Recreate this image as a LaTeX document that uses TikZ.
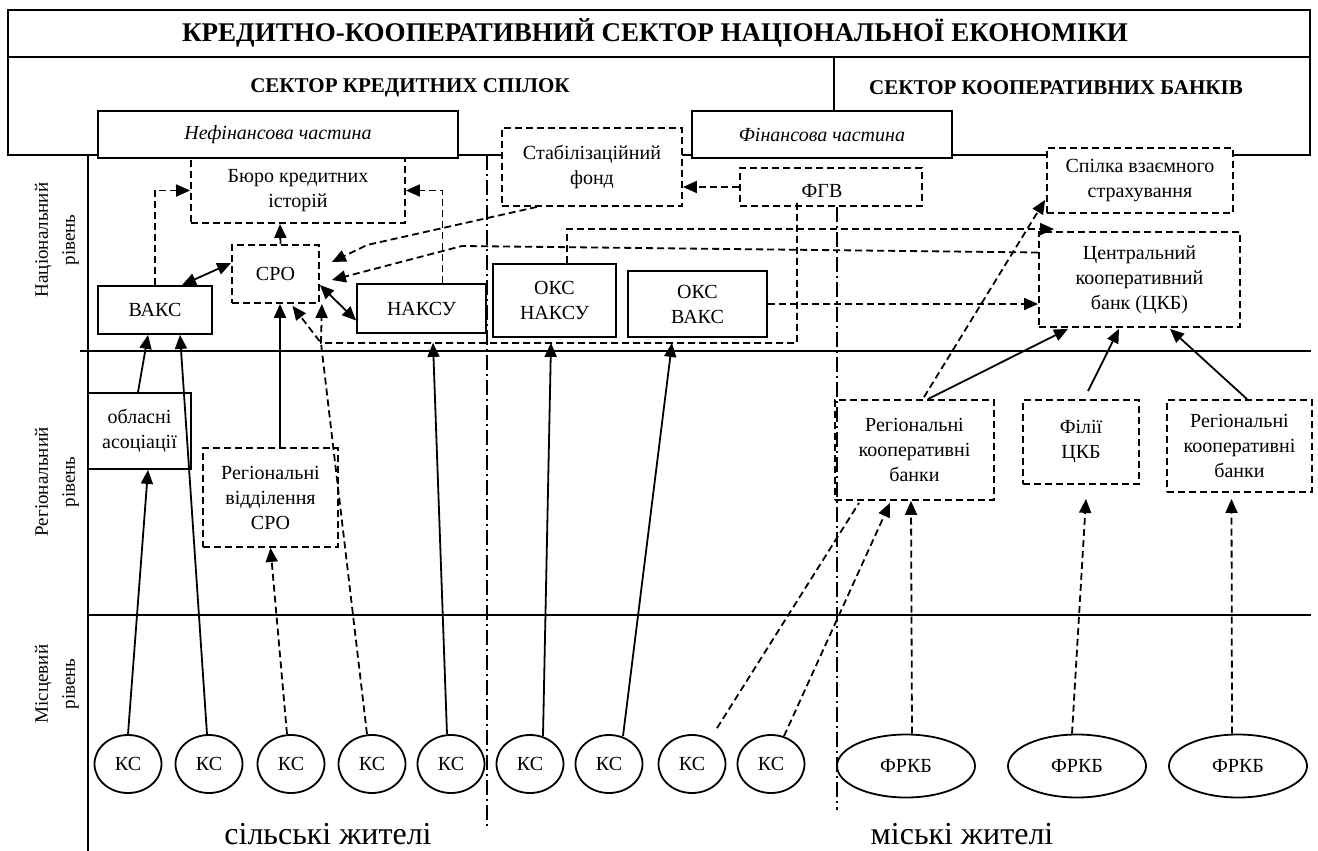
\documentclass[tikz,border=0pt]{standalone}
\usepackage{fontspec}
\setmainfont{Liberation Serif}
\usetikzlibrary{arrows.meta,shapes.geometric,calc}
\newcommand\bx{\fontsize{10}{12.5}\selectfont}
\begin{document}
\begin{tikzpicture}[x=0.5pt,y=-0.5pt,line width=0.9pt,
  sbox/.style={draw,inner sep=0pt,align=center,font=\bx},
  dbox/.style={sbox,dash pattern=on 3.5pt off 2pt},
  place/.style n args={4}{minimum width={(#3-#1)*0.5pt},minimum height={(#4-#2)*0.5pt},at={({(#1+#3)/2},{(#2+#4)/2})}},
  dsh/.style={dash pattern=on 3.5pt off 2pt},
  dashdot/.style={dash pattern=on 7.5pt off 2pt on 1pt off 2pt},
  arr/.style={-{Triangle[length=7pt,width=6pt]}},
  darr/.style={{Triangle[length=7pt,width=6pt]}-{Triangle[length=7pt,width=6pt]}},
  ks/.style={draw,ellipse,minimum width=33.5pt,minimum height=29pt,inner sep=0pt,font=\bx},
  fr/.style={ks,minimum width=69pt,minimum height=31.5pt},
  lvl/.style={rotate=90,align=center,font=\fontsize{9.5}{13.5}\selectfont},
  big/.style={font=\fontsize{16}{18}\selectfont,anchor=base,inner sep=0pt}]
\useasboundingbox (0,0) rectangle (1318,851);

% frame
\draw (8,10) rectangle (1310,155);
\draw (8,57) -- (1310,57);
\draw (834,57) -- (834,111);
\node[font=\bfseries\fontsize{13.5}{16}\selectfont] (title) at (655,33) {КРЕДИТНО-КООПЕРАТИВНИЙ СЕКТОР НАЦІОНАЛЬНОЇ ЕКОНОМІКИ};
\node[font=\bfseries\fontsize{10.5}{12}\selectfont] (secks) at (410,88) {СЕКТОР КРЕДИТНИХ СПІЛОК};
\node[font=\bfseries\fontsize{10.5}{12}\selectfont] (seckb) at (1056,88) {СЕКТОР КООПЕРАТИВНИХ БАНКІВ};

% level lines
\draw (80,351) -- (1311,351);
\draw (88,615) -- (1311,615);
\draw (88,155) -- (88,851);
\draw[dashdot] (487,155) -- (487,828);
\draw[dashdot] (837,207) -- (837,810);

% level labels
\node[lvl] (l1) at (57,240) {Національний\\рівень};
\node[lvl] (l2) at (57,482) {Регіональний\\рівень};
\node[lvl] (l3) at (57,684) {Місцевий\\рівень};

% boxes
\node[sbox,fill=white,font=\bx\itshape,place={98}{111}{458}{158}] (nef) {Нефінансова частина};
\node[sbox,fill=white,font=\bx\itshape,place={692}{111}{952}{158}] (fin) {Фінансова частина};
\node[dbox,fill=white,place={502}{128}{682}{206}] (stab) {Стабілізаційний\\фонд};
\node[dbox,place={740}{168}{922}{206}] (fgv) {};
\node[font=\bx] (fgvt) at (822,191) {ФГВ};
\node[dbox,fill=white,place={1047}{148}{1233}{213}] (spilka) {Спілка взаємного\\страхування};
\node[dbox,place={191}{158}{405}{223}] (buro) {Бюро кредитних\\історій};
\node[dbox,place={232}{245}{319}{303}] (sro) {СРО};
\node[sbox,place={98}{286}{212}{334}] (vaks) {ВАКС};
\node[sbox,place={357}{284}{486}{333}] (naksu) {НАКСУ};
\node[sbox,place={493}{264}{616}{337}] (okn) {ОКС\\НАКСУ};
\node[sbox,place={628}{271}{767}{337}] (okv) {ОКС\\ВАКС};
\node[dbox,place={1039}{232}{1240}{327}] (ckb) {Центральний\\кооперативний\\банк (ЦКБ)};
\node[sbox,place={88}{393}{191}{469}] (obl) {обласні\\асоціації};
\node[dbox,place={203}{448}{338}{547}] (rvs) {Регіональні\\відділення\\СРО};
\node[dbox,place={835}{400}{994}{500}] (rkb1) {Регіональні\\кооперативні\\банки};
\node[dbox,place={1023}{400}{1139}{484}] (fil) {Філії\\ЦКБ};
\node[dbox,place={1167}{400}{1312}{492}] (rkb2) {Регіональні\\кооперативні\\банки};

% bottom row
\node[ks] (ks1) at (128,764) {КС};
\node[ks] (ks2) at (209,764) {КС};
\node[ks] (ks3) at (291,764) {КС};
\node[ks] (ks4) at (372,764) {КС};
\node[ks] (ks5) at (451,764) {КС};
\node[ks] (ks6) at (530,764) {КС};
\node[ks] (ks7) at (609,764) {КС};
\node[ks] (ks8) at (692,764) {КС};
\node[ks] (ks9) at (771,764) {КС};
\node[fr] (f1) at (906,766) {ФРКБ};
\node[fr] (f2) at (1077,766) {ФРКБ};
\node[fr] (f3) at (1238,766) {ФРКБ};
\node[big] (rural) at (328,844) {сільські жителі};
\node[big] (urban) at (962,844) {міські жителі};

% connectors from bottom
\draw[arr] (ks1.north) -- ($(obl.south)+(8.5,0)$);
\draw[arr] ($(obl.north)+(-1.5,0)$) -- ($(vaks.south)+(-7,0)$);
\draw[arr] ($(ks2.north)+(-2,0)$) -- ($(vaks.south)+(25,0)$);
\draw[arr,dsh] ($(ks3.north)+(-4,0)$) -- (rvs.south);
\draw[arr] ($(rvs.north)+(9.5,0)$) -- ($(sro.south)+(4.5,0)$);
\coordinate (br) at (321,343);
\draw[arr,dsh] ($(ks4.north)+(-5,0)$) -- (br) -- ($(sro.south)+(17,2)$);
\draw[arr,dsh] ($(fgv.south)+(-34,-4)$) |- (br) -- ($(sro.south east)+(2,0)$);
\draw[arr] ($(ks5.north)+(-4,0)$) -- ($(naksu.south)+(11.5,9)$);
\draw[arr] ($(ks6.north)+(13,2)$) -- ($(okn.south)+(-3.5,5)$);
\draw[arr] ($(ks7.north)+(14,2)$) -- ($(okv.south)+(-25.5,5)$);
\draw[dsh] ($(ks8.north)+(25,-6)$) -- ($(rkb1.south)+(-55.5,2)$);
\draw[arr,dsh] ($(ks9.north)+(13,2)$) -- ($(rkb1.south)+(-24.5,2)$);
\draw[arr,dsh] ($(f1.north)+(6,0)$) -- ($(rkb1.south)+(-3.5,0)$);
\draw[arr,dsh] ($(f2.north)+(-5,0)$) -- ($(fil.south)+(5,14)$);
\draw[arr,dsh] ($(f3.north)+(-6,0)$) -- ($(rkb2.south)+(-8,6)$);

% upper right
\draw[arr] ($(rkb1.north)+(13.5,0)$) -- ($(ckb.south)+(-71.5,1)$);
\draw[arr,dsh] ($(rkb1.north)+(9.5,-2)$) -- ($(spilka.south west)+(-1,-14)$);
\draw[arr] ($(fil.north)+(7,-8)$) -- ($(ckb.south)+(-20.5,1)$);
\draw[arr] ($(rkb2.north)+(7.5,0)$) -- ($(ckb.south)+(30.5,1)$);

% upper left
\draw[darr] ($(vaks.north)+(27,0)$) -- ($(sro.west)+(0,-11)$);
\draw[darr] ($(sro.east)+(0,11)$) -- ($(naksu.west)+(0,12)$);
\draw[arr,dsh] (vaks.north) |- (buro.west);
\draw[arr,dsh] ($(naksu.north)+(21,0)$) |- (buro.east);
\draw[arr,dsh] ($(sro.north)+(5,0)$) -- ($(buro.south)+(-18,0)$);
\coordinate (k1) at (367,245);
\coordinate (k2) at (462,246);
\draw[arr,dsh] ($(stab.south)+(-55,0)$) -- (k1) -- ($(sro.east)+(12,-12)$);
\draw[arr,dsh] ($(ckb.west)+(0,-27)$) -- (k2) -- ($(sro.east)+(12,6)$);
\draw[arr,dsh] ($(okn.north)+(12.5,0)$) |- ($(ckb.north west)+(16,-2)$);
\draw[arr,dsh] (okv.east) -- (okv.east -| ckb.west);
\draw[arr,dsh] (fgv.west) -- (fgv.west -| stab.east);
\end{tikzpicture}
\end{document}
